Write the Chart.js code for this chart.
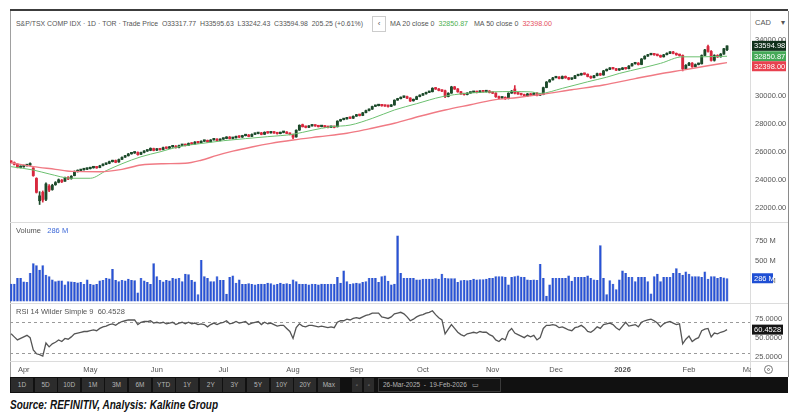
<!DOCTYPE html>
<html lang="en">
<head>
<meta charset="UTF-8" />
<title>S&amp;P/TSX COMP IDX</title>
<script src="https://cdn.jsdelivr.net/npm/chart.js@4.4.1/dist/chart.umd.min.js"></script>
<style>
  body { margin: 0; width: 800px; height: 417px; background: #fff; position: relative; overflow: hidden; font-family: "Liberation Sans", Arial, sans-serif; }
  canvas { position: absolute; }
  .hl { position: absolute; height: 1px; background: #dcdcdc; }
  .vl { position: absolute; width: 1px; background: #dcdcdc; }
  .txt { position: absolute; font-size: 7.5px; color: #555; white-space: nowrap; transform-origin: 0 50%; line-height: 10px; }
  #toolbar { position: absolute; left: 10px; top: 377px; width: 778px; height: 16px; background: #111; }
  .btn { position: absolute; top: 1px; height: 14px; width: 22px; background: #2c2c2c; color: #b5b5b5; font-size: 6.5px; line-height: 14px; text-align: center; }
  #datebox { position: absolute; left: 368px; top: 1px; width: 117px; height: 12px; border: 1px solid #3a3a3a; background: #141414; color: #b5b5b5; font-size: 6.5px; line-height: 12px; padding-left: 4px; box-sizing: content-box; }
  #source { position: absolute; left: 10px; top: 397px; font-size: 13px; font-weight: bold; font-style: italic; color: #111; white-space: nowrap; transform-origin: 0 50%; }
</style>
</head>
<body>
<!-- frame -->
<div style="position:absolute;left:10px;top:9px;width:778px;height:2px;background:#3c3c3c"></div>
<div class="vl" style="left:10px;top:11px;height:366px;background:#a0a0a0"></div>
<div class="vl" style="left:788px;top:11px;height:366px;background:#8a8a8a"></div>
<div class="vl" style="left:750px;top:11px;height:366px"></div>
<div class="hl" style="left:10px;top:222px;width:778px"></div>
<div class="hl" style="left:10px;top:303px;width:778px"></div>
<div class="hl" style="left:10px;top:361px;width:778px"></div>

<div id="hdr1" class="txt" style="left:16px;top:19px">S&amp;P/TSX COMP IDX · 1D · TOR · Trade Price &nbsp;O33317.77 &nbsp;H33595.63 &nbsp;L33242.43 &nbsp;C33594.98 &nbsp;205.25 (+0.61%)</div>
<div style="position:absolute;left:372px;top:16px;width:12px;height:14px;border:1px solid #ccc;font-size:8px;color:#555;line-height:14px;text-align:center">‹</div>
<div id="hdr2" class="txt" style="left:390px;top:19px">MA 20 close 0 &nbsp;<span style="color:#4caf50">32850.87</span> &nbsp;&nbsp;MA 50 close 0 &nbsp;<span style="color:#e5505e">32398.00</span></div>
<div class="txt" style="left:755px;top:18px;font-size:7.5px">CAD &nbsp;&nbsp;&nbsp;&nbsp;▾</div>

<canvas id="price" width="778" height="192" style="left:10px;top:30px"></canvas>
<canvas id="volume" width="778" height="81" style="left:10px;top:222px"></canvas>
<canvas id="rsi" width="778" height="74" style="left:10px;top:303px"></canvas>

<div class="txt" style="left:16px;top:226px">Volume &nbsp;&nbsp;<span style="color:#3f6ad8">286 M</span></div>
<div class="txt" style="left:16px;top:307px">RSI 14 Wilder Simple 9 &nbsp;60.4528</div>

<div style="position:absolute;left:751px;top:362px;width:37px;height:15px;background:#fff"></div>
<div style="position:absolute;left:764px;top:365px;width:7px;height:7px;border:1px solid #777;border-radius:50%"></div>
<div style="position:absolute;left:767px;top:368px;width:3px;height:3px;border:1px solid #777;border-radius:50%;box-sizing:border-box"></div>

<div id="toolbar"><div id="datebox">26-Mar-2025 &nbsp;- &nbsp;19-Feb-2026 &nbsp;&nbsp;▭</div></div>
<div id="source">Source: REFINITIV, Analysis: Kalkine Group</div>

<script>
// trading days 26-Mar-2025 .. 19-Feb-2026, one entry per session
const opens = [
  25300,25230,25120,24880,24930,25010,25060,24850,24100,22500,
  23100,22600,23550,23300,23650,23820,23980,23900,24180,24080,
  24300,24580,24660,24720,24760,24800,24860,24920,24880,25020,
  25110,25180,25300,25380,25280,25470,25620,25720,25860,25920,
  25960,25830,25960,26060,26110,26240,26120,26220,26170,26320,
  26260,26360,26410,26320,26460,26520,26470,26620,26570,26720,
  26660,26760,26820,26720,26860,26910,26820,26910,26960,27060,
  26960,27010,27110,27060,27160,27210,27110,27260,27310,27360,
  27260,27410,27360,27410,27360,27310,27390,27410,27330,27260,
  27070,27560,27950,27820,27760,27860,27910,27860,27810,27860,
  27790,27760,27810,27800,28210,28310,28360,28460,28410,28560,
  28660,28610,28810,28960,29060,29260,29310,29360,29310,29330,
  29260,29360,29710,29810,29910,29960,29860,29660,29760,29960,
  30060,30160,30260,30310,30580,30510,30420,30380,29960,30210,
  30660,30510,30310,30160,30110,30210,30260,30310,30260,30360,
  30310,30360,30260,30210,29960,29860,29910,29810,30210,30500,
  30210,30160,30110,30010,30160,30060,30210,30060,30110,30610,
  31010,31160,31310,31360,31260,31410,31310,31210,31260,31460,
  31510,31610,31560,31410,31310,31460,31610,31510,31810,31910,
  32010,31960,31860,31910,32010,31960,32160,32310,32360,32260,
  32660,32860,32960,33010,32960,32910,32810,32960,33060,33160,
  33060,32960,32910,31960,32210,32360,32110,32260,32310,32910,
  33550,33200,32560,32910,32810,33010,33317.77
];
const highs = [
  25360,25280,25150,25000,25060,25100,25220,24870,24150,23150,
  23200,23780,23650,23680,23870,24060,24020,24200,24230,24300,
  24640,24710,24750,24800,24840,24890,24950,24960,25040,25150,
  25200,25340,25400,25420,25490,25640,25750,25890,25950,26000,
  26000,25990,26090,26150,26290,26270,26240,26260,26340,26350,
  26390,26440,26450,26480,26540,26560,26640,26660,26740,26760,
  26790,26840,26850,26880,26940,26950,26930,26990,27090,27100,
  27040,27140,27150,27190,27240,27250,27290,27340,27390,27400,
  27440,27450,27440,27450,27400,27410,27440,27450,27360,27280,
  27580,27940,27990,27850,27880,27940,27940,27880,27880,27880,
  27820,27830,27840,28230,28340,28390,28480,28490,28580,28690,
  28700,28830,28990,29090,29280,29340,29390,29400,29340,29360,
  29390,29730,29840,29940,30000,30000,29880,29790,29990,30090,
  30190,30290,30340,30600,30620,30540,30450,30420,30240,30700,
  30690,30540,30340,30200,30240,30290,30340,30350,30390,30390,
  30390,30390,30290,30240,29990,29940,29940,30240,30400,30750,
  30250,30200,30140,30190,30200,30240,30240,30140,30640,31040,
  31190,31340,31400,31390,31440,31440,31340,31290,31490,31540,
  31640,31650,31590,31440,31490,31640,31640,31840,31940,32040,
  32050,31990,31940,32040,32050,32190,32340,32390,32400,32690,
  32890,32990,33040,33060,33000,32940,32990,33090,33190,33200,
  33090,33000,32950,32260,32420,32400,32300,32360,32950,33350,
  33650,33260,32960,32960,33050,33420,33595.63
];
const lows = [
  25200,25060,24850,24850,24900,24980,25030,24250,23050,22230,
  22400,22500,23150,23250,23600,23780,23800,23880,24000,24040,
  24280,24550,24630,24690,24730,24770,24830,24820,24860,24990,
  25080,25150,25270,25220,25250,25440,25600,25700,25830,25890,
  25760,25800,25930,26030,26080,26070,26090,26120,26140,26220,
  26230,26330,26270,26290,26440,26420,26450,26520,26540,26610,
  26640,26740,26680,26700,26840,26770,26790,26890,26940,26920,
  26930,26990,27020,27030,27140,27080,27090,27240,27290,27220,
  27240,27330,27340,27320,27270,27290,27360,27300,27210,26950,
  27050,27540,27780,27720,27740,27840,27830,27780,27790,27750,
  27720,27730,27720,27780,28190,28290,28340,28380,28390,28540,
  28570,28590,28790,28930,29040,29240,29290,29270,29250,29200,
  29240,29340,29690,29790,29880,29820,29600,29630,29740,29940,
  30040,30140,30240,30290,30470,30370,30320,29880,29940,30190,
  30470,30270,30120,30060,30080,30190,30240,30220,30240,30270,
  30280,30220,30170,29900,29800,29830,29760,29790,30190,30150,
  30110,30060,29960,29980,30020,30040,30010,30030,30090,30590,
  30990,31140,31290,31220,31230,31270,31160,31180,31240,31440,
  31490,31520,31370,31260,31290,31440,31470,31490,31790,31890,
  31920,31810,31830,31890,31920,31940,32140,32290,32220,32240,
  32640,32840,32940,32920,32870,32770,32790,32940,33040,33020,
  32920,32860,31800,31900,32170,32050,32080,32230,32290,32890,
  33150,32500,32500,32760,32780,32990,33242.43
];
const closes = [
  25250,25100,24900,24950,25000,25050,25150,24300,23100,22850,
  22550,23700,23250,23600,23800,24000,23850,24150,24050,24250,
  24600,24650,24700,24750,24800,24850,24900,24850,25000,25100,
  25150,25300,25350,25250,25450,25600,25700,25850,25900,25950,
  25800,25950,26050,26100,26250,26100,26200,26150,26300,26250,
  26350,26400,26300,26450,26500,26450,26600,26550,26700,26650,
  26750,26800,26700,26850,26900,26800,26900,26950,27050,26950,
  27000,27100,27050,27150,27200,27100,27250,27300,27350,27250,
  27400,27350,27400,27350,27300,27380,27400,27320,27250,27050,
  27550,27900,27800,27750,27850,27900,27850,27800,27850,27780,
  27750,27800,27750,28200,28300,28350,28450,28400,28550,28650,
  28600,28800,28950,29050,29250,29300,29350,29300,29280,29250,
  29350,29700,29800,29900,29950,29850,29650,29750,29950,30050,
  30150,30250,30300,30550,30500,30400,30350,29950,30200,30650,
  30500,30300,30150,30100,30200,30250,30300,30250,30350,30300,
  30350,30250,30200,29950,29850,29900,29800,30200,30350,30200,
  30150,30100,30000,30150,30050,30200,30050,30100,30600,31000,
  31150,31300,31350,31250,31400,31300,31200,31250,31450,31500,
  31600,31550,31400,31300,31450,31600,31500,31800,31900,32000,
  31950,31850,31900,32000,31950,32150,32300,32350,32250,32650,
  32850,32950,33000,32950,32900,32800,32950,33050,33150,33050,
  32950,32900,31950,32200,32350,32100,32250,32300,32900,33300,
  33200,32550,32900,32800,33000,33389.73,33594.98
];
// volume in millions
const volumes = [
  218,220,290,290,245,240,350,470,445,390,
  445,330,310,270,250,258,258,210,250,245,
  240,235,240,215,270,215,210,215,258,265,
  290,282,400,265,250,265,258,280,265,260,
  110,290,258,240,215,470,310,265,245,265,
  258,290,282,290,250,340,335,265,245,90,
  510,310,290,250,250,310,265,265,95,300,
  320,230,270,215,215,225,215,210,215,220,
  215,230,225,210,215,230,220,225,215,270,
  250,220,215,220,210,220,215,210,220,215,
  215,220,215,300,230,380,250,215,225,230,
  225,240,250,290,290,290,240,310,320,255,
  210,220,810,350,290,290,290,290,270,270,
  280,280,280,280,285,280,340,290,285,285,
  285,240,260,265,260,265,280,270,275,275,
  280,290,290,310,310,310,305,210,300,310,
  320,305,300,270,265,270,265,460,290,70,
  210,290,290,290,290,290,320,255,300,300,
  300,300,320,290,270,265,690,290,90,260,
  220,150,270,380,350,300,300,250,300,300,
  300,250,100,310,340,250,300,300,300,350,
  410,350,330,370,340,310,310,310,300,370,
  280,310,310,290,300,295,286
];
const rsi = [
  55,51,47,49,51,53,50,34,29,28,
  26,43,38,42,44,47,45,49,48,51,
  55,56,57,58,58,59,60,59,62,64,
  65,67,68,66,69,71,72,73,73,73,
  67,70,71,71,72,69,70,69,70,68,
  69,70,67,69,70,68,70,68,69,67,
  68,67,64,67,69,67,69,70,72,68,
  69,71,69,70,71,67,69,70,71,67,
  70,68,69,67,65,66,66,62,58,49,
  63,68,65,64,66,66,65,64,65,64,
  63,64,63,70,72,72,74,73,75,76,
  75,77,79,80,82,82,82,77,76,75,
  77,81,82,83,81,77,72,74,77,79,
  80,82,83,85,80,76,73,55,61,67,
  62,57,54,52,55,56,57,56,58,57,
  57,54,52,47,45,49,47,58,62,56,
  54,52,50,53,51,53,47,50,62,66,
  66,67,66,63,64,62,60,59,63,64,
  66,63,58,57,60,64,62,67,68,69,
  67,63,60,65,70,65,66,67,64,70,
  72,73,74,72,69,64,68,70,71,69,
  67,68,42,48,52,45,48,50,59,61,
  62,51,56,55,57,58,60.4528
];
// moving averages read at key sessions
const ma20Idx = [0, 7, 12, 19, 25, 30, 35, 41, 47, 53, 60, 67, 74, 81, 89, 95, 101, 107, 114, 121, 128, 136, 144, 152, 158, 164, 167, 174, 182, 188, 192, 199, 205, 212, 218, 222, 226];
const ma20Val = [24940, 24700, 24420, 24110, 24110, 24650, 25150, 25650, 26000, 26370, 26600, 26800, 26950, 27090, 27260, 27550, 27800, 27920, 28400, 29000, 29450, 29950, 30200, 30300, 30320, 30300, 30190, 30550, 31020, 31350, 31620, 32000, 32340, 32810, 32810, 32830, 32850.87];
const ma50Idx = [0, 7, 14, 19, 28, 35, 41, 48, 55, 60, 65, 70, 76, 82, 89, 97, 106, 113, 121, 129, 137, 145, 152, 160, 167, 177, 187, 197, 205, 212, 219, 226];
const ma50Val = [25220, 24940, 24750, 24600, 24580, 24750, 25060, 25150, 25180, 25400, 25750, 26050, 26350, 26610, 26850, 27080, 27330, 27650, 28050, 28550, 29000, 29380, 29710, 29900, 30100, 30450, 30790, 31250, 31600, 31860, 32130, 32398.00];

const monthIdx = [4, 25, 46, 67, 89, 109, 130, 152, 172, 193, 214, 233];
const monthNames = ['Apr', 'May', 'Jun', 'Jul', 'Aug', 'Sep', 'Oct', 'Nov', 'Dec', '2026', 'Feb', 'Mar'];
const priceTicks = [22000, 24000, 26000, 28000, 30000, 32000, 34000];
const volTicks = [250, 500, 750];
const rsiTicks = [25, 50, 75];
const rsiLevels = [70, 30];

const rangeButtons = ['1D', '5D', '10D', '1M', '3M', '6M', 'YTD', '1Y', '2Y', '3Y', '5Y', '10Y', '20Y', 'Max'];

const upColor = '#1c4a2a';
const downColor = '#d8283e';
const xMin = -0.35, xMax = 233.25;
const font = { family: '"Liberation Sans", Arial, sans-serif', size: 7.5 };

Chart.defaults.font.family = font.family;

const candleColors = closes.map((c, i) => (c >= opens[i] ? upColor : downColor));

function noPad(s) {
  s.paddingTop = 0;
  s.paddingBottom = 0;
  s.paddingLeft = 0;
  s.paddingRight = 0;
}

function hiddenX() {
  return { type: 'linear', min: xMin, max: xMax, offset: false, display: false };
}

function rightAxis(ticks, min, max, fmt) {
  return {
    position: 'right',
    min: min,
    max: max,
    afterFit: (s) => { s.width = 38; noPad(s); },
    afterBuildTicks: (s) => { s.ticks = ticks.map((v) => ({ value: v })); },
    grid: { display: false, drawTicks: false },
    border: { display: false },
    ticks: { padding: 5, color: '#555', font: font, callback: fmt },
  };
}

// value tags on the right axis
const badgePlugin = {
  id: 'badges',
  afterDraw(chart, args, opts) {
    const { ctx, chartArea, scales } = chart;
    let last = -100;
    opts.items.forEach((b) => {
      let y = scales.y.getPixelForValue(b.value);
      if (y - last < 10) y = last + 10;
      last = y;
      ctx.save();
      ctx.fillStyle = b.bg;
      ctx.fillRect(chartArea.right + 2, y - 5, b.w, 10);
      ctx.fillStyle = '#fff';
      ctx.font = '7.5px "Liberation Sans", Arial, sans-serif';
      ctx.textBaseline = 'middle';
      ctx.fillText(b.text, chartArea.right + 4, y + 0.5);
      ctx.restore();
    });
  },
};

const levelPlugin = {
  id: 'levels',
  beforeDatasetsDraw(chart) {
    const { ctx, chartArea, scales } = chart;
    ctx.save();
    ctx.strokeStyle = '#9a9a9a';
    ctx.lineWidth = 1;
    ctx.setLineDash([3, 3]);
    rsiLevels.forEach((v) => {
      const y = Math.round(scales.y.getPixelForValue(v)) + 0.5;
      ctx.beginPath();
      ctx.moveTo(chartArea.left, y);
      ctx.lineTo(chartArea.right, y);
      ctx.stroke();
    });
    ctx.restore();
  },
};

const baseOptions = {
  responsive: false,
  animation: false,
  devicePixelRatio: 1,
  layout: { padding: 0 },
  plugins: { legend: { display: false }, tooltip: { enabled: false } },
};

new Chart(document.getElementById('price'), {
  type: 'bar',
  data: {
    datasets: [
      {
        type: 'line',
        data: ma50Idx.map((x, i) => ({ x: x, y: ma50Val[i] })),
        borderColor: '#f07a84',
        borderWidth: 1.4,
        pointRadius: 0,
        cubicInterpolationMode: 'monotone',
      },
      {
        type: 'line',
        data: ma20Idx.map((x, i) => ({ x: x, y: ma20Val[i] })),
        borderColor: '#6cc070',
        borderWidth: 1,
        pointRadius: 0,
        cubicInterpolationMode: 'monotone',
      },
      {
        data: closes.map((c, i) => ({ x: i, y: [lows[i], highs[i]] })),
        backgroundColor: candleColors,
        barThickness: 1,
        grouped: false,
      },
      {
        data: closes.map((c, i) => ({ x: i, y: [opens[i], c] })),
        backgroundColor: candleColors,
        barThickness: 2.2,
        minBarLength: 1.5,
        grouped: false,
      },
    ],
  },
  options: {
    ...baseOptions,
    scales: {
      x: hiddenX(),
      y: rightAxis(priceTicks, 20976, 34731, (v) => v.toFixed(2)),
    },
    plugins: {
      ...baseOptions.plugins,
      badges: {
        items: [
          { value: closes[closes.length - 1], bg: '#10301a', text: '33594.98', w: 34 },
          { value: ma20Val[ma20Val.length - 1], bg: '#45a957', text: '32850.87', w: 34 },
          { value: ma50Val[ma50Val.length - 1], bg: '#e8414f', text: '32398.00', w: 34 },
        ],
      },
    },
  },
  plugins: [badgePlugin],
});

new Chart(document.getElementById('volume'), {
  type: 'bar',
  data: {
    datasets: [
      {
        data: volumes.map((v, i) => ({ x: i, y: v })),
        backgroundColor: '#2752d6',
        borderColor: '#1b3cae',
        borderWidth: { left: 0.5, right: 0.5, top: 0, bottom: 0 },
        barPercentage: 0.86,
        categoryPercentage: 1,
      },
    ],
  },
  options: {
    ...baseOptions,
    scales: {
      x: hiddenX(),
      y: rightAxis(volTicks, -18, 977, (v) => v + ' M'),
    },
    plugins: {
      ...baseOptions.plugins,
      badges: { items: [{ value: volumes[volumes.length - 1], bg: '#1f4fd4', text: '286 M', w: 21 }] },
    },
  },
  plugins: [badgePlugin],
});

new Chart(document.getElementById('rsi'), {
  type: 'line',
  data: {
    datasets: [
      {
        data: rsi.map((v, i) => ({ x: i, y: v })),
        borderColor: '#555',
        borderWidth: 1.3,
        pointRadius: 0,
        tension: 0,
      },
    ],
  },
  options: {
    ...baseOptions,
    scales: {
      x: {
        type: 'linear',
        min: xMin,
        max: xMax,
        offset: false,
        afterFit: (s) => { s.height = 16; noPad(s); },
        afterBuildTicks: (s) => { s.ticks = monthIdx.map((v) => ({ value: v })); },
        grid: { display: false, drawTicks: false },
        border: { display: false },
        ticks: {
          autoSkip: false,
          maxRotation: 0,
          padding: 4,
          color: '#555',
          font: (c) => ({ ...font, weight: c.tick && c.tick.value === 193 ? 'bold' : 'normal' }),
          callback: (v, i) => monthNames[i],
        },
      },
      y: rightAxis(rsiTicks, 19.6, 95.1, (v) => v.toFixed(4)),
    },
    plugins: {
      ...baseOptions.plugins,
      badges: { items: [{ value: rsi[rsi.length - 1], bg: '#151515', text: '60.4528', w: 31 }] },
    },
  },
  plugins: [badgePlugin, levelPlugin],
});

// bottom range toolbar
const bar = document.getElementById('toolbar');
rangeButtons.forEach((t, i) => {
  const b = document.createElement('div');
  b.className = 'btn';
  b.style.left = (1 + i * 23.6) + 'px';
  b.textContent = t;
  bar.appendChild(b);
});
[342, 354].forEach((x) => {
  const b = document.createElement('div');
  b.className = 'btn';
  b.style.left = x + 'px';
  b.style.width = '10px';
  b.textContent = '◦';
  bar.appendChild(b);
});

function fit(id, w) {
  const el = document.getElementById(id);
  const r = el.getBoundingClientRect().width;
  el.style.transform = 'scaleX(' + (w / r) + ')';
}
fit('hdr1', 347);
fit('hdr2', 162);
fit('source', 208);
</script>
</body>
</html>
